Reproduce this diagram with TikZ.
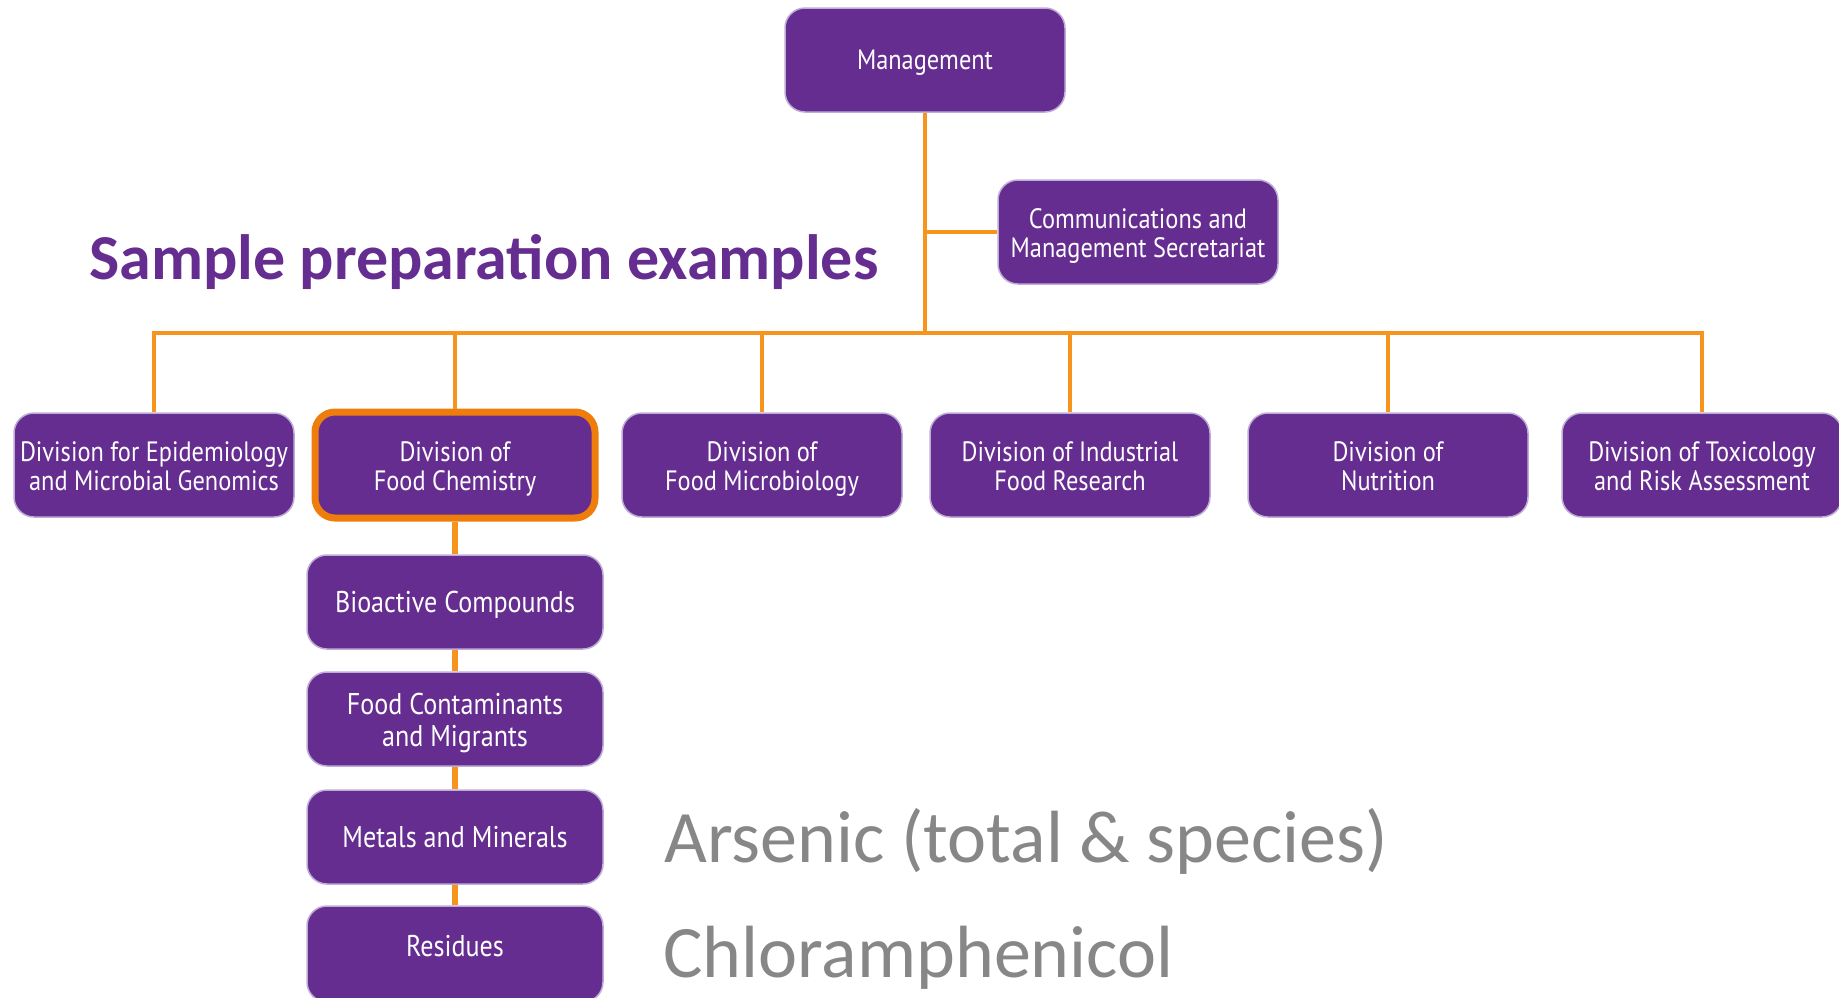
\documentclass[tikz,border=0pt]{standalone}
\usepackage{fontspec}
\setmainfont{Carlito}
\newfontfamily\boxfont{PT Sans}[FakeStretch=0.87]
\definecolor{bfrpurple}{RGB}{102,45,145}
\definecolor{bfrline}{RGB}{247,148,29}
\definecolor{bfrorange}{RGB}{239,125,11}
\definecolor{bfredge}{RGB}{190,172,214}
\definecolor{bfrgray}{RGB}{135,135,135}
\begin{document}
\begin{tikzpicture}[x=1pt,y=-1pt,
    unit/.style={rectangle,rounded corners=20pt,fill=bfrpurple,draw=bfredge,line width=1.5pt,
      text=white,align=center,minimum width=280pt,minimum height=104pt,inner sep=2pt,
      font=\boxfont\fontsize{28}{29}\selectfont,
      execute at begin node={\rule{0pt}{0.96em}},execute at end node={\rule[-0.25em]{0pt}{0.25em}}},
    twoline/.style={execute at begin node={\rule{0pt}{2.1em}}},
    subunit/.style={unit,minimum width=296pt,minimum height=94pt,
      font=\boxfont\fontsize{30}{32}\selectfont},
    focus/.style={unit,draw=bfrorange,line width=7pt,minimum height=106pt},
    link/.style={draw=bfrline,line width=3.5pt},
    sublink/.style={draw=bfrline,line width=6pt}]
    \useasboundingbox (0,0) rectangle (1839,997);
    \clip (0,0) rectangle (1839,997);
    %% top
    \node[unit] (mgmt) at (925,60) {Management};
    \node[unit,twoline] (comms) at (1138,232) {Communications and\\Management Secretariat};
    \coordinate (bus) at (924,333);
    %% divisions
    \node[unit,twoline] (epid) at (154,465) {Division for Epidemiology\\and Microbial Genomics};
    \node[focus,twoline] (chem) at (455,465) {Division of\\Food Chemistry};
    \node[unit,twoline] (micro) at (762,465) {Division of\\Food Microbiology};
    \node[unit,twoline] (indus) at (1070,465) {Division of Industrial\\Food Research};
    \node[unit,twoline] (nutr) at (1388,465) {Division of\\Nutrition};
    \node[unit,twoline] (tox) at (1702,465) {Division of Toxicology\\and Risk Assessment};
    %% departments
    \node[subunit] (bio) at (455,602) {Bioactive Compounds};
    \node[subunit,twoline] (cont) at (455,719) {Food Contaminants\\and Migrants};
    \node[subunit] (metal) at (455,837) {Metals and Minerals};
    \node[subunit,minimum height=96pt,execute at end node={\rule[-23pt]{0pt}{23pt}}]
      (resid) at (455,954) {Residues};
    %% lines
    \draw[link] (mgmt.south) -- (mgmt.south |- bus);
    \draw[link] (mgmt.south |- comms.west) -- (comms.west);
    \draw[link] (epid.north) |- (bus) -| (tox.north);
    \foreach \n in {chem,micro,indus,nutr}
      \draw[link] (\n.north) -- (\n.north |- bus);
    \foreach \a/\b in {chem/bio,bio/cont,cont/metal,metal/resid}
      \draw[sublink] (\a.south) -- (\b.north);
    %% texts
    \node[anchor=base west,inner sep=0,text=bfrpurple,font=\fontsize{64}{70}\selectfont\bfseries]
      (title) at (89,279) {Sample preparation examples};
    \node[anchor=base west,inner sep=0,text=bfrgray,font=\fontsize{74}{80}\selectfont]
      (arsenic) at (664,862) {Arsenic (total \& species)};
    \node[anchor=base west,inner sep=0,text=bfrgray,font=\fontsize{74}{80}\selectfont]
      (chloram) at (663,977) {Chloramphenicol};
\end{tikzpicture}
\end{document}
